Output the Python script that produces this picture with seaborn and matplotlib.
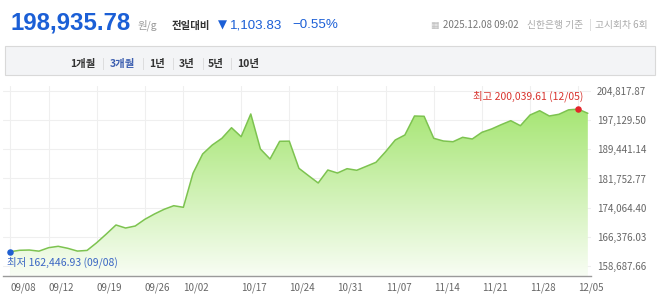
import numpy as np
import pandas as pd
import matplotlib
matplotlib.use("Agg")
import matplotlib.pyplot as plt
import seaborn as sns
from matplotlib.colors import to_rgb

# ---------------- data ----------------
dates = ["09/08", "09/09", "09/10", "09/11", "09/12",
         "09/15", "09/16", "09/17", "09/18", "09/19",
         "09/22", "09/23", "09/24", "09/25", "09/26",
         "09/29", "09/30", "10/01", "10/02",
         "10/10",
         "10/13", "10/14", "10/15", "10/16", "10/17",
         "10/20", "10/21", "10/22", "10/23", "10/24",
         "10/27", "10/28", "10/29", "10/30", "10/31",
         "11/03", "11/04", "11/05", "11/06", "11/07",
         "11/10", "11/11", "11/12", "11/13", "11/14",
         "11/17", "11/18", "11/19", "11/20", "11/21",
         "11/24", "11/25", "11/26", "11/27", "11/28",
         "12/01", "12/02", "12/03", "12/04", "12/05",
         "12/08"]

prices = [162446.93, 162830, 162900, 162600, 163510,
          163880, 163350, 162620, 162800, 164830,
          167120, 169500, 168700, 169230, 171000,
          172400, 173630, 174580, 174160,
          183120,
          188210, 190580, 192350, 195140, 192770,
          198760, 189530, 186890, 191560, 191600,
          184440, 182490, 180570, 183990, 183200,
          184340, 183920, 184970, 186020, 188820,
          191900, 193220, 198230, 198150, 192350,
          191640, 191450, 192610, 192170, 193930,
          194800, 195940, 196990, 195670, 198490,
          199620, 198230, 198680, 199850, 200039.61,
          198935.78]

tick_dates = ["09/08", "09/12", "09/19", "09/26", "10/02", "10/17", "10/24",
              "10/31", "11/07", "11/14", "11/21", "11/28", "12/05"]

ytick_values = [158687.66, 166376.03, 174064.40, 181752.77,
                189441.14, 197129.50, 204817.87]

low_label = "최저 162,446.93 (09/08)"
high_label = "최고 200,039.61 (12/05)"
low_date, high_date = "09/08", "12/05"

current_price = "198,935.78"
unit = "원/g"
change_title = "전일대비"
change_arrow = "▼"
change_abs = "1,103.83"
change_pct = "−0.55%"
stamp_date = "2025.12.08 09:02"
stamp_rest = "신한은행 기준"
stamp_round = "고시회차 6회"
tabs = ["1개월", "3개월", "1년", "3년", "5년", "10년"]
selected_tab = "3개월"

df = pd.DataFrame({"i": np.arange(len(dates)), "date": dates, "price": prices})

# ---------------- style ----------------
sns.set_style("white")
KR = ["Noto Sans CJK KR", "DejaVu Sans"]
NUM = ["Liberation Sans", "DejaVu Sans"]
plt.rcParams["font.family"] = KR

W, H = 658, 302
fig = plt.figure(figsize=(W / 100, H / 100), dpi=100)
fig.patch.set_facecolor("white")


def fx(px):
    return px / W


def fy(py):
    return 1 - py / H


# ---------------- header ----------------
blue = "#1b5fd6"
fig.text(fx(11), fy(29.3), current_price, fontsize=17.3, fontweight="bold",
         color=blue, family=NUM, va="baseline", ha="left")
fig.text(fx(137), fy(28.5), unit, fontsize=7.5, color="#999999",
         va="baseline", ha="left")
fig.text(fx(172), fy(28.5), change_title, fontsize=7.5, fontweight="bold",
         color="#333333", va="baseline", ha="left")
fig.text(fx(218), fy(28.5), change_arrow, fontsize=8.5, color=blue,
         family=["DejaVu Sans"], va="baseline", ha="left")
fig.text(fx(229.5), fy(28.5), change_abs, fontsize=9.6, color=blue,
         family=NUM, va="baseline", ha="left")
fig.text(fx(292), fy(28.5), change_pct, fontsize=9.6, color=blue,
         family=NUM, va="baseline", ha="left")

fig.text(fx(430), fy(28.3), "▦", fontsize=6.5, color="#bbbbbb",
         family=["DejaVu Sans"], va="baseline", ha="left")
fig.text(fx(443), fy(28.3), stamp_date, fontsize=7, color="#777777",
         va="baseline", ha="left")
fig.text(fx(527), fy(28.3), stamp_rest, fontsize=7, color="#aaaaaa",
         va="baseline", ha="left")
fig.text(fx(589), fy(28.3), "|", fontsize=7, color="#cccccc",
         va="baseline", ha="left")
fig.text(fx(595), fy(28.3), stamp_round, fontsize=7, color="#aaaaaa",
         va="baseline", ha="left")

# tab bar
tab_bg = plt.Rectangle((fx(4.5), fy(74.5)), fx(650), (74.5 - 46.5) / H,
                       transform=fig.transFigure, facecolor="#f3f4f6",
                       edgecolor="#d9d9d9", linewidth=0.8)
fig.patches.append(tab_bg)
tab_x = [70, 110, 149, 179, 208, 237]
sep_x = [102, 142, 172, 202, 230]
for t, x in zip(tabs, tab_x):
    fig.text(fx(x), fy(66.5), t, fontsize=7.5, fontweight="bold",
             color="#3d5fb0" if t == selected_tab else "#333333",
             va="baseline", ha="left")
for x in sep_x:
    fig.text(fx(x), fy(66.5), "|", fontsize=7, color="#d0d0d0",
             va="baseline", ha="left")

# ---------------- chart ----------------
ax = fig.add_axes([fx(3), 26 / H, 588 / W, 190 / H])
ax.set_facecolor("white")

x_lo, x_hi = -0.73, 60.33
y_lo, y_hi = 156051, 206136
ax.set_xlim(x_lo, x_hi)
ax.set_ylim(y_lo, y_hi)

# gradient fill under the line
poly = ax.fill_between(df["i"], df["price"], y_lo, facecolor="none",
                       edgecolor="none")
top_c = np.array(to_rgb("#a4e570"))
bot_c = np.array(to_rgb("#f8fdf4"))
t = np.linspace(0, 1, 256)[:, None]
grad = (top_c[None, :] * (1 - t) + bot_c[None, :] * t)[:, None, :]
grad_top = 201500
im = ax.imshow(grad, extent=[x_lo, x_hi, y_lo, grad_top], aspect="auto",
               origin="upper", zorder=1, interpolation="bilinear")
im.set_clip_path(poly.get_paths()[0], transform=ax.transData)

sns.lineplot(data=df, x="i", y="price", ax=ax, color="#7dc350",
             linewidth=1.1, zorder=3)

# markers
i_low = dates.index(low_date)
i_high = dates.index(high_date)
ax.scatter([i_low], [prices[i_low]], s=22, color="#1f5fd1", zorder=5,
           linewidths=0)
ax.scatter([i_high], [prices[i_high]], s=22, color="#e3262b", zorder=5,
           linewidths=0)
ax.annotate(low_label, xy=(i_low, prices[i_low]), xytext=(-2.5, -7.5),
            textcoords="offset points", ha="left", va="center",
            fontsize=7.5, color="#3a66c4", zorder=6)
ax.annotate(high_label, xy=(i_high, prices[i_high]), xytext=(3.6, 9.6),
            textcoords="offset points", ha="right", va="center",
            fontsize=7.5, color="#d8332d", zorder=6)

# axes styling
tick_pos = [dates.index(d) for d in tick_dates]
ax.set_xticks(tick_pos)
ax.set_xticklabels(tick_dates, ha="left")
ax.set_yticks(ytick_values)
ax.set_yticklabels([f"{v:,.2f}" for v in ytick_values])
ax.yaxis.tick_right()
ax.set_xlabel("")
ax.set_ylabel("")
ax.tick_params(axis="x", length=3, width=0.8, color="#999999", pad=1.5,
               labelsize=7, labelcolor="#666666", direction="out")
ax.tick_params(axis="y", length=0, pad=4.3, labelsize=7,
               labelcolor="#666666")
ax.grid(True, color="#efefef", linewidth=0.8, zorder=0)
ax.set_axisbelow(True)
for s in ["top", "left", "right"]:
    ax.spines[s].set_visible(False)
ax.spines["bottom"].set_color("#9a9a9a")
ax.spines["bottom"].set_linewidth(1.0)
ax.spines["bottom"].set_zorder(4)

fig.savefig("out.png", dpi=100)
